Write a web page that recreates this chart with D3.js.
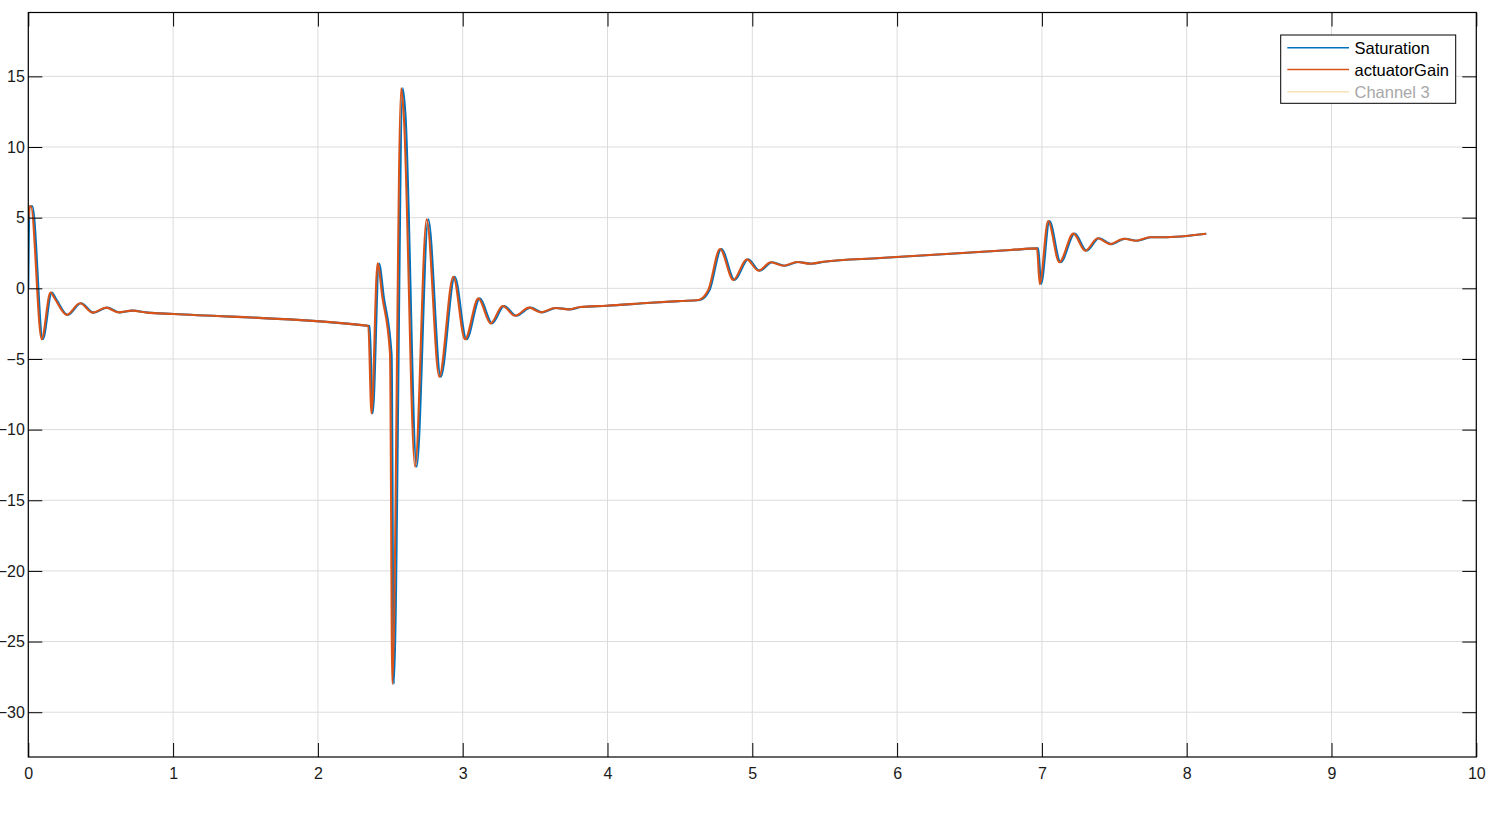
<!DOCTYPE html>
<html>
<head>
<meta charset="utf-8">
<script src="https://cdn.jsdelivr.net/npm/d3@7"></script>
<style>
  html, body { margin: 0; padding: 0; background: #fff; }
  svg { display: block; font-family: "Liberation Sans", Arial, sans-serif; }
</style>
</head>
<body>
<svg id="chart" width="1497" height="814"></svg>
<script>
// ---- data ----
const seriesNames = ["Saturation", "actuatorGain", "Channel 3"];
const xTicks = [0, 1, 2, 3, 4, 5, 6, 7, 8, 9, 10];
const yTicks = [-30, -25, -20, -15, -10, -5, 0, 5, 10, 15];

const satT = [0, 0.008, 0.028, 0.100, 0.162, 0.190, 0.272, 0.364, 0.452, 0.544, 0.629, 0.721, 0.826, 1.008,
  2.358, 2.378, 2.422, 2.455, 2.509, 2.524, 2.586, 2.604, 2.682, 2.762, 2.848, 2.945, 3.026, 3.118, 3.203, 3.286,
  3.371, 3.468, 3.550, 3.646, 3.738, 3.820, 3.999, 4.303, 4.509, 4.636, 4.705, 4.786, 4.878, 4.971, 5.051,
  5.137, 5.224, 5.317, 5.409, 5.499, 5.889, 6.789, 6.975, 6.994, 7.052, 7.129, 7.226, 7.309, 7.394, 7.480,
  7.574, 7.659, 7.753, 7.839, 8.135];
const satV = [0, 5.8, 5.8, -3.6, -0.3, -0.72, -1.88, -1.06, -1.72, -1.37, -1.70, -1.58, -1.72, -1.82,
  -2.67, -8.85, 1.75, -0.6, -4.7, -28.0, 14.15, 12.4, -12.63, 4.88, -6.25, 0.82, -3.61, -0.71, -2.48, -1.25,
  -1.94, -1.37, -1.70, -1.39, -1.49, -1.32, -1.23, -1.02, -0.90, -0.83, -0.12, 2.78, 0.59, 2.05, 1.25,
  1.84, 1.60, 1.86, 1.74, 1.88, 2.14, 2.71, 2.83, 0.30, 4.76, 1.84, 3.87, 2.66, 3.54, 3.13,
  3.51, 3.37, 3.61, 3.61, 3.86];

const gainT = [0, 0.010, 0.018, 0.092, 0.153, 0.182, 0.265, 0.357, 0.445, 0.537, 0.622, 0.714, 0.818, 1.000,
  2.348, 2.370, 2.412, 2.445, 2.498, 2.514, 2.575, 2.592, 2.671, 2.751, 2.838, 2.935, 3.016, 3.108, 3.193, 3.276,
  3.361, 3.458, 3.540, 3.637, 3.729, 3.810, 3.990, 4.294, 4.500, 4.627, 4.696, 4.777, 4.869, 4.962, 5.042,
  5.128, 5.215, 5.308, 5.400, 5.490, 5.880, 6.780, 6.966, 6.985, 7.043, 7.120, 7.217, 7.300, 7.385, 7.471,
  7.565, 7.650, 7.744, 7.830, 8.135];
const gainV = [4.8, 5.8, 5.8, -3.6, -0.3, -0.72, -1.88, -1.06, -1.72, -1.37, -1.70, -1.58, -1.72, -1.82,
  -2.66, -8.85, 1.77, -0.6, -4.6, -28.0, 14.15, 12.4, -12.63, 4.88, -6.25, 0.82, -3.61, -0.71, -2.48, -1.25,
  -1.94, -1.37, -1.70, -1.39, -1.49, -1.32, -1.23, -1.02, -0.90, -0.83, -0.12, 2.78, 0.59, 2.05, 1.25,
  1.84, 1.60, 1.86, 1.74, 1.88, 2.14, 2.71, 2.83, 0.30, 4.76, 1.84, 3.87, 2.66, 3.54, 3.13,
  3.51, 3.37, 3.61, 3.61, 3.86];

const colors = ["#0072BD", "#D95319", "#F7E3B5"];

// ---- layout ----
const svg = d3.select("#chart");
const pL = 28.3, pR = 1476.3, pT = 12.5, pB = 757;
const x = d3.scaleLinear().domain([0, 10]).range([pL, pR]);
const y = d3.scaleLinear().domain([-33.17, 19.52]).range([pB, pT]);

// grid
const grid = svg.append("g").attr("stroke", "#DCDCDC").attr("stroke-width", 1);
xTicks.forEach(t => {
  grid.append("line").attr("x1", x(t)).attr("x2", x(t)).attr("y1", pT).attr("y2", pB);
});
yTicks.forEach(t => {
  grid.append("line").attr("x1", pL).attr("x2", pR).attr("y1", y(t)).attr("y2", y(t));
});

// lines
const line = d3.line().x(d => x(d[0])).y(d => y(d[1])).curve(d3.curveMonotoneX);
const satData = satT.map((t, i) => [t, satV[i]]);
const gainData = gainT.map((t, i) => [t, gainV[i]]);

svg.append("clipPath").attr("id", "clip").append("rect")
  .attr("x", pL).attr("y", pT).attr("width", pR - pL).attr("height", pB - pT);

const plot = svg.append("g").attr("clip-path", "url(#clip)");
plot.append("path").datum(satData).attr("d", line)
  .attr("fill", "none").attr("stroke", colors[0]).attr("stroke-width", 2.1).attr("stroke-linejoin", "round");
plot.append("path").datum(gainData).attr("d", line)
  .attr("fill", "none").attr("stroke", colors[1]).attr("stroke-width", 2.1).attr("stroke-linejoin", "round");

// axes (inside ticks on all four sides)
const tl = 14;
const axB = svg.append("g").attr("transform", `translate(0,${pB})`)
  .call(d3.axisBottom(x).tickValues(xTicks).tickSizeInner(-tl).tickSizeOuter(0).tickPadding(10.5).tickFormat(d3.format("d")));
const axT = svg.append("g").attr("transform", `translate(0,${pT})`)
  .call(d3.axisTop(x).tickValues(xTicks).tickSizeInner(-tl).tickSizeOuter(0).tickFormat(""));
const axL = svg.append("g").attr("transform", `translate(${pL},0)`)
  .call(d3.axisLeft(y).tickValues(yTicks).tickSizeInner(-tl).tickSizeOuter(0).tickPadding(3.5).tickFormat(d3.format("d")));
const axR = svg.append("g").attr("transform", `translate(${pR},0)`)
  .call(d3.axisRight(y).tickValues(yTicks).tickSizeInner(-tl).tickSizeOuter(0).tickFormat(""));
[axB, axT, axL, axR].forEach(a => {
  a.select(".domain").remove();
  a.selectAll(".tick line").attr("stroke", "#000").attr("stroke-width", 1);
  a.selectAll("text").attr("fill", "#1a1a1a").attr("font-size", 16)
    .attr("font-family", "'Liberation Sans', Arial, sans-serif");
});
axB.selectAll("text").attr("dy", "0.71em");

// box
svg.append("rect").attr("x", pL).attr("y", pT).attr("width", pR - pL).attr("height", pB - pT)
  .attr("fill", "none").attr("stroke", "#000").attr("stroke-width", 1.2);

// legend
const lg = svg.append("g");
lg.append("rect").attr("x", 1280.7).attr("y", 35).attr("width", 175).attr("height", 68.3)
  .attr("fill", "#fff").attr("stroke", "#000").attr("stroke-width", 1);
const lgY = [47.7, 69.5, 91.7];
const textColors = ["#000", "#000", "#A8A8A8"];
seriesNames.forEach((name, i) => {
  lg.append("line").attr("x1", 1287.3).attr("x2", 1349).attr("y1", lgY[i]).attr("y2", lgY[i])
    .attr("stroke", colors[i]).attr("stroke-width", 1.6);
  lg.append("text").attr("x", 1354.5).attr("y", lgY[i] + 6).text(name)
    .attr("font-size", 16.5).attr("fill", textColors[i]);
});
</script>
</body>
</html>
